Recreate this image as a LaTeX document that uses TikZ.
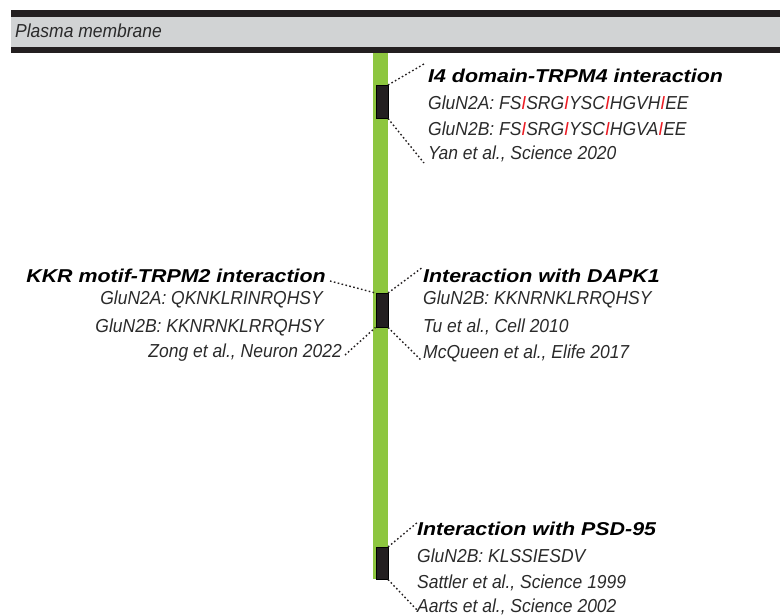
\documentclass[tikz,border=0pt]{standalone}
\usepackage{fontspec}
\setmainfont{Liberation Sans}
\definecolor{memgrey}{HTML}{D1D3D4}
\definecolor{memblack}{HTML}{231F20}
\definecolor{glugreen}{HTML}{8DC63F}
\definecolor{redI}{HTML}{ED1C24}
\definecolor{txt}{HTML}{2A2A2A}
\newcommand{\rI}{\textcolor{redI}{I}}
\newcommand{\ttlbox}[1]{\scalebox{1.15}[1]{#1}}
\newcommand{\bdbox}[1]{\scalebox{0.93}[1]{#1}}
\begin{document}
\begin{tikzpicture}[x=1pt,y=-1pt,
  body/.style={font=\fontsize{18.8}{20}\selectfont\itshape, text=txt, inner sep=0pt},
  ttl/.style={font=\fontsize{18.6}{20}\selectfont\bfseries\itshape, text=black, inner sep=0pt},
  lead/.style={draw=memblack, line width=1.4pt, dash pattern=on 1.6pt off 2.4pt},
  domainbox/.style={fill=memblack, draw=black, line width=0.5pt, inner sep=0pt,
     minimum width=12pt, anchor=north west},
  tailbar/.style={fill=glugreen, inner sep=0pt, minimum width=14.5pt, anchor=north west}
]
\useasboundingbox (0,0) rectangle (780,615);
% membrane
\fill[memblack] (11,10) rectangle (780,53);
\fill[memgrey] (11,17) rectangle (780,47);
\node[body, anchor=base west] (pm) at (15,38) {\bdbox{Plasma membrane}};
% receptor tail
\node[tailbar, minimum height=526pt] (tail) at (373,53) {};
\node[domainbox, minimum height=33pt] (d1) at (375.5,85) {};
\node[domainbox, minimum height=34pt] (d2) at (375.5,293) {};
\node[domainbox, minimum height=32pt] (d3) at (375.5,547) {};

% box 1
\node[ttl, anchor=base west] (t1) at (428,83) {\ttlbox{I4 domain-TRPM4 interaction}};
\node[body, anchor=base west] (a1) at (428,110) {\bdbox{GluN2A: FS\rI SRG\rI YSC\rI HGVH\rI EE}};
\node[body, anchor=base west] (b1) at (428,136) {\bdbox{GluN2B: FS\rI SRG\rI YSC\rI HGVA\rI EE}};
\node[body, anchor=base west] (r1) at (428,160) {\bdbox{Yan et al., Science 2020}};
\coordinate (c1t) at (424,64);
\coordinate (c1b) at (424,163);
\draw[lead] (d1.north east) -- (c1t);
\draw[lead] (d1.south east) -- (c1b);

% left of box 2
\node[ttl, anchor=base east] (t2) at (326,282) {\ttlbox{KKR motif-TRPM2 interaction}};
\node[body, anchor=base east] (a2) at (323,305) {\bdbox{GluN2A: QKNKLRINRQHSY}};
\node[body, anchor=base east] (b2) at (324,332) {\bdbox{GluN2B: KKNRNKLRRQHSY}};
\node[body, anchor=base east] (r2) at (342,357) {\bdbox{Zong et al., Neuron 2022}};
\coordinate (c2lt) at (330,281);
\coordinate (c2lb) at (345,355);
\draw[lead] (c2lt) -- (d2.north west);
\draw[lead] (c2lb) -- (d2.south west);

% right of box 2
\node[ttl, anchor=base west] (t3) at (423,283) {\ttlbox{Interaction with DAPK1}};
\node[body, anchor=base west] (b3) at (423,305) {\bdbox{GluN2B: KKNRNKLRRQHSY}};
\node[body, anchor=base west] (r3) at (423,332) {\bdbox{Tu et al., Cell 2010}};
\node[body, anchor=base west] (s3) at (423,358) {\bdbox{McQueen et al., Elife 2017}};
\coordinate (c3t) at (423,267);
\coordinate (c3b) at (422,361);
\draw[lead] (d2.north east) -- (c3t);
\draw[lead] (d2.south east) -- (c3b);

% box 3
\node[ttl, anchor=base west] (t4) at (417,535) {\ttlbox{Interaction with PSD-95}};
\node[body, anchor=base west] (b4) at (417,562) {\bdbox{GluN2B: KLSSIESDV}};
\node[body, anchor=base west] (r4) at (417,588) {\bdbox{Sattler et al., Science 1999}};
\node[body, anchor=base west] (s4) at (417,612) {\bdbox{Aarts et al., Science 2002}};
\coordinate (c4t) at (418,522);
\coordinate (c4b) at (417,610);
\draw[lead] (d3.north east) -- (c4t);
\draw[lead] (d3.south east) -- (c4b);
\end{tikzpicture}
\end{document}
